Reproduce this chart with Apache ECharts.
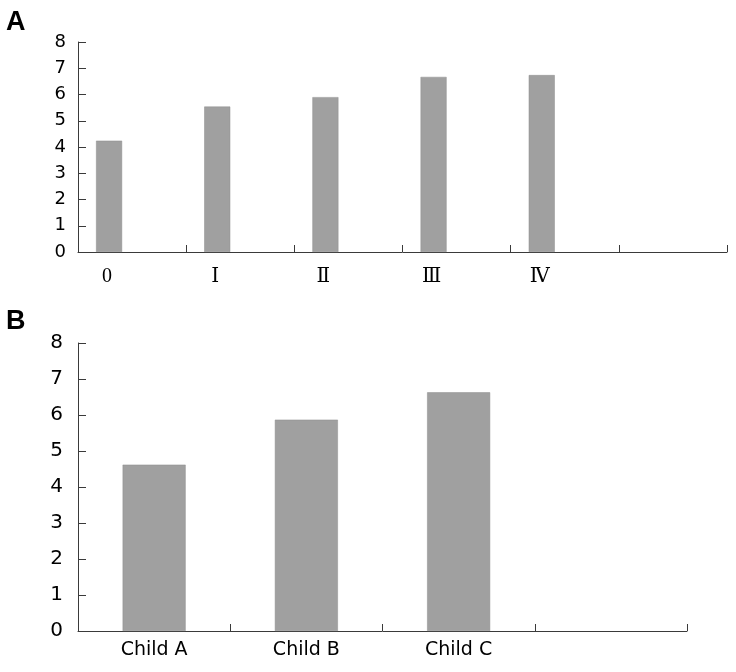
<!DOCTYPE html>
<html>
<head>
<meta charset="utf-8">
<script src="https://cdn.jsdelivr.net/npm/echarts@6/dist/echarts.min.js"></script>
<style>html,body{margin:0;padding:0;background:#fff}#c{width:736px;height:672px}</style>
</head>
<body>
<div id="c"></div>
<script>
const catsA = ['0', 'Ⅰ', 'Ⅱ', 'Ⅲ', 'Ⅳ', ''];
const valsA = [4.24, 5.54, 5.90, 6.67, 6.74, null];
const catsB = ['Child A', 'Child B', 'Child C', ''];
const valsB = [4.62, 5.87, 6.63, null];
const yTicks = [0, 1, 2, 3, 4, 5, 6, 7, 8];

const axisCol = '#3a3a3a';
const barCol = '#a0a0a0';
const sans = 'DejaVu Sans';
const serif = 'Liberation Serif, DejaVu Serif, Noto Sans CJK SC, serif';

const chart = echarts.init(document.getElementById('c'), null, {renderer: 'canvas'});
chart.setOption({
  backgroundColor: '#fff',
  animation: false,
  title: [
    {text: 'A', left: 1, top: 4, padding: 5, textStyle: {fontFamily: 'Liberation Sans', fontWeight: 'bold', fontSize: 27, color: '#000'}},
    {text: 'B', left: 1, top: 303, padding: 5, textStyle: {fontFamily: 'Liberation Sans', fontWeight: 'bold', fontSize: 27, color: '#000'}}
  ],
  grid: [
    {left: 78, top: 42, width: 649, height: 210},
    {left: 78, top: 343, width: 609, height: 288}
  ],
  xAxis: [
    {
      type: 'category', gridIndex: 0, data: catsA, boundaryGap: true,
      axisLine: {show: true, lineStyle: {color: axisCol, width: 1}},
      axisTick: {show: true, inside: true, length: 7, interval: 0, lineStyle: {color: axisCol, width: 1}},
      axisLabel: {fontFamily: serif, fontSize: 20, color: '#000', margin: 15, padding: [0, 50, 0, 0], interval: 0}
    },
    {
      type: 'category', gridIndex: 1, data: catsB, boundaryGap: true,
      axisLine: {show: true, lineStyle: {color: axisCol, width: 1}},
      axisTick: {show: true, inside: true, length: 7, interval: 0, lineStyle: {color: axisCol, width: 1}},
      axisLabel: {fontFamily: sans, fontSize: 19, color: '#000', margin: 10, interval: 0}
    }
  ],
  yAxis: [
    {
      type: 'value', gridIndex: 0, min: yTicks[0], max: yTicks[yTicks.length - 1], interval: 1,
      splitLine: {show: false},
      axisLine: {show: true, lineStyle: {color: axisCol, width: 1}},
      axisTick: {show: true, inside: true, length: 8, lineStyle: {color: axisCol, width: 1}},
      axisLabel: {fontFamily: sans, fontSize: 18, color: '#000', margin: 12}
    },
    {
      type: 'value', gridIndex: 1, min: yTicks[0], max: yTicks[yTicks.length - 1], interval: 1,
      splitLine: {show: false},
      axisLine: {show: true, lineStyle: {color: axisCol, width: 1}},
      axisTick: {show: true, inside: true, length: 8, lineStyle: {color: axisCol, width: 1}},
      axisLabel: {fontFamily: sans, fontSize: 20, color: '#000', margin: 15}
    }
  ],
  series: [
    {
      type: 'bar', xAxisIndex: 0, yAxisIndex: 0, data: valsA,
      barWidth: 26, barGap: '77%',
      itemStyle: {color: barCol, borderColor: '#8c8c8c', borderWidth: 0.5}
    },
    {
      type: 'bar', xAxisIndex: 0, yAxisIndex: 0, data: catsA.map(() => null),
      barWidth: 26, itemStyle: {color: barCol}
    },
    {
      type: 'bar', xAxisIndex: 1, yAxisIndex: 1, data: valsB,
      barWidth: 63,
      itemStyle: {color: barCol, borderColor: '#8c8c8c', borderWidth: 0.5}
    }
  ]
});
</script>
</body>
</html>
